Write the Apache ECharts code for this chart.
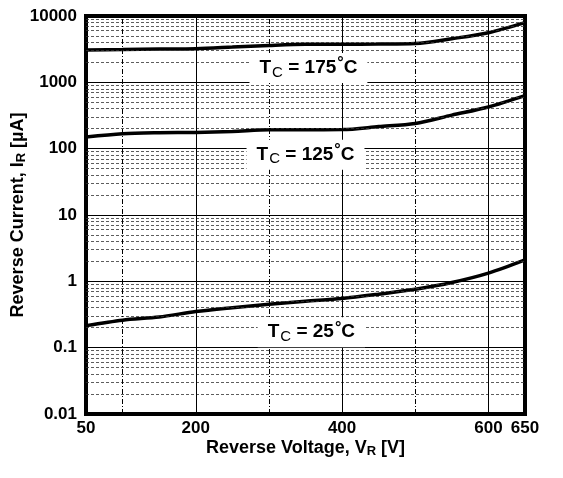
<!DOCTYPE html>
<html>
<head>
<meta charset="UTF-8">
<script src="https://cdn.jsdelivr.net/npm/echarts@6.0.0/dist/echarts.min.js"></script>
<title></title>
<style>
  html, body { margin: 0; padding: 0; background: #fff; }
</style>
</head>
<body>
<div id="main" style="width:563px;height:478px"></div>
<script type="text/javascript">
// reverse voltage (V)
var voltage = [50, 100, 150, 200, 250, 300, 350, 400, 450, 500, 550, 600, 650];
// reverse current (uA) per case temperature
var current175 = [3080, 3120, 3170, 3220, 3400, 3600, 3750, 3760, 3780, 3850, 4550, 5600, 7950];
var current125 = [150, 168, 174, 176, 182, 192, 193, 194, 215, 240, 320, 425, 630];
var current25 = [0.215, 0.26, 0.29, 0.35, 0.40, 0.45, 0.50, 0.55, 0.64, 0.76, 0.96, 1.33, 2.1];

var xTickLabels = [50, 200, 400, 600, 650];
var yTickLabels = ['0.01', '0.1', '1', '10', '100', '1000', '10000'];
var curveNames = ['175', '125', '25'];
// where the temperature tags sit (V, uA)
var tagAnchors = [[354, 1650], [350, 81], [358, 0.171]];

var FONT = '"Liberation Sans", Arial, sans-serif';

function pairs(ys) {
    return voltage.map(function (v, i) { return [v, ys[i]]; });
}

// minor log grid lines 2..9 in each decade
var minorLines = [];
for (var d = 0.01; d < 5000; d *= 10) {
    for (var k = 2; k <= 9; k++) {
        minorLines.push({ yAxis: +(k * d).toPrecision(3) });
    }
}
// vertical grid: solid at 200/400/600, dash-dot in between
var vLines = [];
for (var v = 100; v <= 600; v += 100) {
    vLines.push({
        xAxis: v,
        lineStyle: v % 200 === 0
            ? { type: 'solid', color: '#000', width: 1 }
            : { type: [5, 2, 1, 2], color: '#000', width: 1 }
    });
}

var tagRich = {
    t: { fontFamily: FONT, fontWeight: 'bold', fontSize: 19, color: '#000', lineHeight: 24 },
    s: { fontFamily: FONT, fontSize: 15, color: '#000', verticalAlign: 'bottom', padding: [8, 0, 0, 1], lineHeight: 24 },
    d: { fontFamily: FONT, fontWeight: 'bold', fontSize: 16, color: '#000', verticalAlign: 'top', padding: [0, 0, 6, 1], lineHeight: 24 }
};

var tagData = curveNames.map(function (n, i) {
    return {
        coord: tagAnchors[i],
        value: n,
        label: {
            formatter: '{t|T}{s|C}{t| = ' + n + '}{d|°}{t|C}'
        }
    };
});

var titleRich = {
    a: { fontFamily: FONT, fontWeight: 'bold', fontSize: 18, color: '#000' },
    s: { fontFamily: FONT, fontWeight: 'bold', fontSize: 13, color: '#000', padding: [7, 0, 0, 0] }
};

var myChart = echarts.init(document.getElementById('main'), null, { renderer: 'canvas' });

var option = {
    animation: false,
    backgroundColor: '#fff',
    grid: {
        left: 86, right: 38, top: 16, bottom: 64,
        outerBoundsMode: 'none',
        containLabel: false,
        show: true,
        borderColor: '#000',
        borderWidth: 4,
        backgroundColor: 'transparent'
    },
    xAxis: {
        type: 'value',
        min: 50,
        max: 650,
        interval: 50,
        name: '{a|Reverse Voltage, V}{s|R}{a| [V]}',
        nameLocation: 'middle',
        nameMoveOverlap: false,
        nameGap: 24,
        nameTextStyle: { verticalAlign: 'top', rich: titleRich },
        axisLine: { show: false },
        axisTick: { show: false },
        splitLine: { show: false },
        axisLabel: {
            margin: 6,
            fontFamily: FONT,
            fontWeight: 'bold',
            fontSize: 17,
            color: '#000',
            showMinLabel: true,
            showMaxLabel: true,
            formatter: function (val) {
                return xTickLabels.indexOf(val) >= 0 ? String(val) : '';
            }
        }
    },
    yAxis: {
        type: 'log',
        logBase: 10,
        min: 0.01,
        max: 10000,
        name: '{a|Reverse Current, I}{s|R}{a| [µA]}',
        nameLocation: 'middle',
        nameMoveOverlap: false,
        nameGap: 58,
        nameTextStyle: { rich: titleRich },
        axisLine: { show: false },
        axisTick: { show: false },
        splitLine: { show: true, lineStyle: { color: '#000', width: 1 } },
        axisLabel: {
            margin: 9,
            fontFamily: FONT,
            fontWeight: 'bold',
            fontSize: 17,
            color: '#000',
            formatter: function (val) {
                var s = String(+val.toPrecision(2));
                return yTickLabels.indexOf(s) >= 0 ? s : '';
            }
        }
    },
    series: [
        {
            name: 'grid',
            type: 'line',
            data: [],
            z: 1,
            silent: true,
            markLine: {
                silent: true,
                symbol: 'none',
                label: { show: false },
                lineStyle: { type: [3, 2], color: '#333', width: 0.8 },
                data: minorLines.concat(vLines)
            }
        },
        {
            name: 'tags',
            type: 'line',
            data: [],
            z: 2,
            silent: true,
            markPoint: {
                symbol: 'rect',
                symbolSize: 0,
                data: tagData,
                label: {
                    show: true,
                    position: 'inside',
                    backgroundColor: '#fff',
                    padding: [3, 10, 3, 10],
                    rich: tagRich
                }
            }
        }
    ].concat([current175, current125, current25].map(function (ys, i) {
        return {
            name: curveNames[i],
            type: 'line',
            data: pairs(ys),
            smooth: 0.3,
            showSymbol: false,
            z: 3,
            lineStyle: { color: '#000', width: 3.5 }
        };
    }))
};

myChart.setOption(option);
</script>
</body>
</html>
